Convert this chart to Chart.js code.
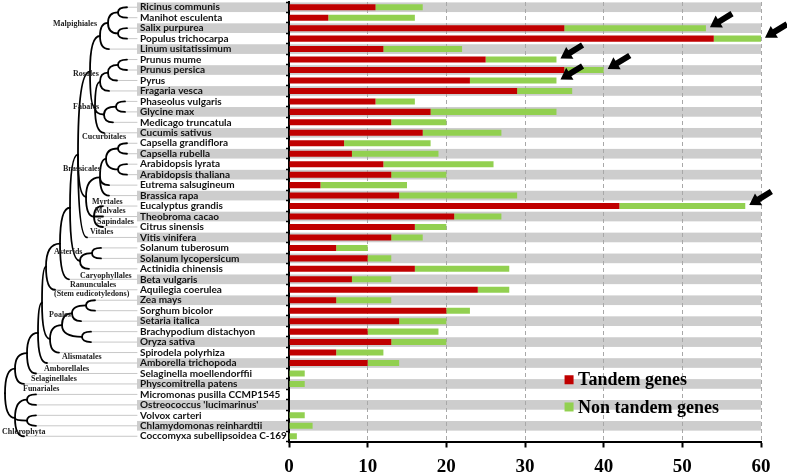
<!DOCTYPE html>
<html>
<head>
<meta charset="utf-8">
<script src="https://cdn.jsdelivr.net/npm/chart.js@4.4.1/dist/chart.umd.min.js"></script>
<style>
  html,body{margin:0;padding:0;background:#fff;}
  #wrap{width:787px;height:474px;position:relative;}
</style>
</head>
<body>
<div id="wrap"><canvas id="c"></canvas></div>
<script>
// especies (de arriba a abajo) y número de genes por categoría
const species = [
  'Ricinus communis','Manihot esculenta','Salix purpurea','Populus trichocarpa','Linum usitatissimum',
  'Prunus mume','Prunus persica','Pyrus','Fragaria vesca','Phaseolus vulgaris',
  'Glycine max','Medicago truncatula','Cucumis sativus','Capsella grandiflora','Capsella rubella',
  'Arabidopsis lyrata','Arabidopsis thaliana','Eutrema salsugineum','Brassica rapa','Eucalyptus grandis',
  'Theobroma cacao','Citrus sinensis','Vitis vinifera','Solanum tuberosum','Solanum lycopersicum',
  'Actinidia chinensis','Beta vulgaris','Aquilegia coerulea','Zea mays','Sorghum bicolor',
  'Setaria italica','Brachypodium distachyon','Oryza sativa','Spirodela polyrhiza','Amborella trichopoda',
  'Selaginella moellendorffii','Physcomitrella patens','Micromonas pusilla CCMP1545',"Ostreococcus 'lucimarinus'",'Volvox carteri',
  'Chlamydomonas reinhardtii','Coccomyxa subellipsoidea C-169'
];
const tandem = [11,5,35,54,12,25,35,23,29,11,18,13,17,7,8,12,13,4,14,42,21,16,13,6,10,16,8,24,6,20,14,10,13,6,10,0,0,0,0,0,0,0];
const nonTandem = [6,11,18,6,10,9,5,11,7,5,16,7,10,11,11,14,7,11,15,16,6,4,4,4,3,12,5,4,7,3,6,9,7,6,4,2,2,0,0,2,3,1];
const xTicks = [0,10,20,30,40,50,60];
const arrowRows = [2,3,5,6,7,19]; // filas señaladas con flecha

// árbol filogenético: nodo = {x, c:[hijos]}, hoja = índice de fila
const n = (x, ...c) => ({x, c});
const malp = n(100, n(108, n(118,0,1), n(118,2,3)), 4);
const ros  = n(100, n(108, n(118,5,6), 7), 8);
const fab  = n(104, n(116,9,10), 11);
const fabids = n(90, malp, n(95, ros, fab, 12));
const brass = n(100, n(106, n(118,13,14), n(118,15,16)), 17, 18);
const malvids = n(86, brass, n(94, 19, 20, 21));
const rosids = n(78, fabids, malvids, 22);
const asterids = n(80, n(92,23,24), 25);
const eudicots = n(46, n(60, n(70, rosids, asterids), 26), 27);
const monocots = n(50, n(62, n(72, n(86,28,29), 30), n(82,31,32)), 33);
const TREE = n(5, n(15, n(27, n(38, n(42, eudicots, monocots), 34), 35), 36), n(15, n(27,37,38), n(27,39,40), 41));
const clades = [
  ['Malpighiales',53,1.6],['Rosales',73,6.4],['Fabales',73,9.5],['Cucurbitales',82,12.4],
  ['Brassicales',63,15.5],['Myrtales',92,18.6],['Malvales',95,19.5],['Sapindales',97,20.5],
  ['Vitales',90,21.5],['Asterids',54,23.4],['Caryophyllales',80,25.7],['Ranunculales',70,26.5],
  ['(Stem eudicotyledons)',54,27.4],['Poales',49,29.4],['Alismatales',62,33.4],['Amborellales',44,34.6],
  ['Selaginellales',31,35.5],['Funariales',23,36.5],['Chlorophyta',2,40.6]
];

const RED = '#c00000', GREEN = '#92d050';
const LABEL_X = 140;

const bgPlugin = {
  id:'bg',
  beforeDraw(chart){
    const {ctx, chartArea:a, scales:{y}} = chart;
    const h = (y.bottom - y.top)/species.length;
    ctx.save();
    ctx.fillStyle = '#cdcdcd';
    species.forEach((s,i)=>{
      if(i%2) return;
      const yc = y.getPixelForValue(i);
      ctx.fillRect(LABEL_X-3, yc-h/2+0.4, a.right-(LABEL_X-3), h-0.8);
    });
    ctx.restore();
  },
  afterDraw(chart){
    const {ctx, scales:{y}} = chart;
    const yOf = v => y.getPixelForValue(v);
    // árbol
    const place = node => {
      if(typeof node==='number') return yOf(node);
      const ys = node.c.map(place);
      node.y = (ys[0]+ys[ys.length-1])/2;
      return node.y;
    };
    place(TREE);
    ctx.save();
    ctx.lineCap='round';
    const draw = node => {
      node.c.forEach(ch=>{
        let cx, cy;
        if(typeof ch==='number'){
          cx = node.x+9; cy = yOf(ch);
          ctx.strokeStyle='#c8c8c8'; ctx.lineWidth=1;
          ctx.beginPath(); ctx.moveTo(cx+1,cy); ctx.lineTo(LABEL_X-3,cy); ctx.stroke();
        } else { cx = ch.x; cy = ch.y; draw(ch); }
        ctx.strokeStyle='#000'; ctx.lineWidth=1.8;
        ctx.beginPath(); ctx.moveTo(node.x,node.y);
        ctx.quadraticCurveTo(node.x,cy,cx,cy); ctx.stroke();
      });
    };
    draw(TREE);
    ctx.font='bold 8px "Liberation Serif", serif';
    ctx.fillStyle='#222'; ctx.textBaseline='middle'; ctx.textAlign='left';
    clades.forEach(([t,x,r])=>ctx.fillText(t,x,yOf(r)));
    ctx.restore();
  },
  afterDatasetsDraw(chart){
    const {ctx, scales:{x,y}} = chart;
    ctx.save();
    ctx.fillStyle='#000';
    const u=[0.85,-0.52], p=[0.52,0.85];
    arrowRows.forEach(r=>{
      const tx = x.getPixelForValue(tandem[r]+nonTandem[r])+4, ty = y.getPixelForValue(r)-1;
      const hb=[tx+u[0]*11, ty+u[1]*11], tl=[tx+u[0]*26, ty+u[1]*26];
      ctx.beginPath();
      ctx.moveTo(tx,ty);
      ctx.lineTo(hb[0]+p[0]*7, hb[1]+p[1]*7);
      ctx.lineTo(hb[0]+p[0]*3, hb[1]+p[1]*3);
      ctx.lineTo(tl[0]+p[0]*3, tl[1]+p[1]*3);
      ctx.lineTo(tl[0]-p[0]*3, tl[1]-p[1]*3);
      ctx.lineTo(hb[0]-p[0]*3, hb[1]-p[1]*3);
      ctx.lineTo(hb[0]-p[0]*7, hb[1]-p[1]*7);
      ctx.closePath(); ctx.fill();
    });
    // leyenda
    const lx = x.getPixelForValue(35.6);
    ctx.font='bold 18px "Liberation Serif", serif';
    ctx.textBaseline='middle';
    chart.data.datasets.forEach((ds,i)=>{
      const ly = y.getPixelForValue(35.6+2.6*i);
      ctx.fillStyle=ds.backgroundColor;
      ctx.fillRect(lx-4.5, ly-4.5, 9, 9);
      ctx.fillStyle='#000';
      ctx.fillText(ds.label, lx+9, ly+1);
    });
    ctx.restore();
  }
};

new Chart(document.getElementById('c'),{
  type:'bar',
  data:{labels:species, datasets:[
    {label:'Tandem genes', data:tandem, backgroundColor:RED, barPercentage:0.58, categoryPercentage:1},
    {label:'Non tandem genes', data:nonTandem, backgroundColor:GREEN, barPercentage:0.58, categoryPercentage:1}
  ]},
  options:{
    indexAxis:'y', responsive:true, maintainAspectRatio:false, animation:false,
    layout:{padding:{left:LABEL_X, right:26, top:2, bottom:0}},
    plugins:{legend:{display:false}, tooltip:{enabled:false}},
    scales:{
      x:{stacked:true, min:0, max:60,
        afterBuildTicks:s=>{ s.ticks = xTicks.map(v=>({value:v})); },
        afterFit:s=>{ s.height = 32.5; s.paddingLeft = 0; },
        border:{color:'#000', width:2, dash:[4,3]},
        grid:{color:c=>c.tick && c.tick.value===0 ? 'rgba(0,0,0,0)' : '#a8a8a8', lineWidth:1,
              tickColor:'#000', tickLength:6, tickWidth:2},
        ticks:{color:'#000', padding:8, font:{family:'"Liberation Serif", serif', size:19, weight:'bold'}}
      },
      y:{stacked:true,
        afterFit:s=>{ s.width = 289-LABEL_X; s.paddingTop = 0; s.paddingBottom = 0; },
        border:{color:'#000', width:2},
        grid:{drawOnChartArea:false, tickColor:'#000', tickLength:3, tickWidth:1.5},
        ticks:{autoSkip:false, crossAlign:'far', color:'#111', padding:4,
               font:{family:'Lato, "Noto Sans", sans-serif', size:10, weight:'bold'}}
      }
    }
  },
  plugins:[bgPlugin]
});
</script>
</body>
</html>
